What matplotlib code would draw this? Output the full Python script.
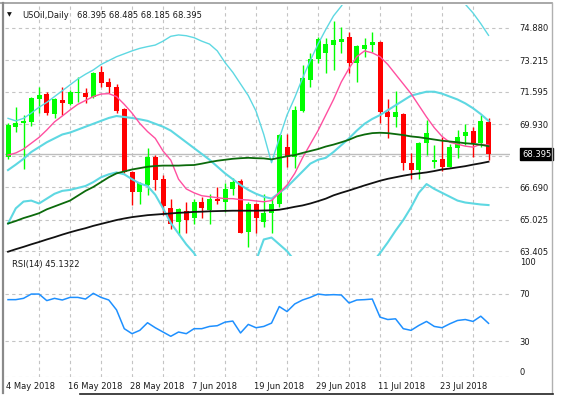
import matplotlib
matplotlib.use("Agg")
import matplotlib.pyplot as plt
import numpy as np
from matplotlib.transforms import blended_transform_factory
from matplotlib.lines import Line2D

# ---------------- data ----------------
opens = [68.26, 69.77, 70.01, 70.06, 71.21, 71.47, 70.45, 71.17, 70.97, 71.55,
         71.55, 71.31, 72.63, 72.12, 71.86, 70.69, 67.48, 66.45, 66.80, 68.26,
         67.09, 65.60, 64.91, 65.48, 65.08, 65.94, 65.51, 66.08, 65.94, 66.58,
         67.00, 64.40, 65.85, 64.91, 65.34, 65.85, 68.74, 68.22, 70.62, 72.20,
         73.27, 73.58, 74.01, 74.18, 74.43, 73.10, 73.78, 74.00, 74.18, 70.57,
         70.32, 70.44, 67.95, 67.57, 68.94, 68.00, 68.12, 67.74, 68.69, 69.32,
         69.58, 68.94, 70.06]
highs = [69.97, 70.83, 70.40, 71.35, 71.86, 71.60, 71.26, 71.86, 71.69, 72.34,
         71.77, 72.63, 72.92, 72.29, 72.00, 70.78, 67.52, 66.97, 68.69, 68.34,
         67.31, 66.06, 65.60, 65.94, 66.06, 66.16, 66.33, 66.68, 66.88, 67.14,
         67.09, 65.94, 65.89, 66.33, 66.20, 69.40, 69.42, 70.87, 72.98, 73.58,
         74.43, 74.35, 75.25, 74.95, 74.69, 74.00, 74.35, 74.69, 74.23, 71.21,
         71.65, 70.49, 68.43, 69.03, 70.14, 68.86, 69.29, 68.91, 69.63, 69.94,
         69.80, 70.40, 70.23]
lows = [68.12, 69.54, 67.60, 69.84, 70.49, 70.40, 70.23, 70.40, 70.92, 71.09,
        71.00, 71.26, 71.86, 71.52, 70.49, 67.43, 65.77, 65.85, 66.28, 66.54,
        65.25, 64.52, 64.22, 64.31, 64.79, 65.13, 64.82, 65.82, 65.43, 66.28,
        64.31, 63.59, 64.31, 64.65, 64.34, 65.68, 67.74, 67.66, 70.57, 71.86,
        73.06, 72.55, 72.72, 73.58, 72.55, 72.12, 73.40, 73.66, 69.97, 69.20,
        69.80, 67.57, 67.09, 67.09, 68.34, 67.66, 67.54, 67.71, 68.17, 68.86,
        68.22, 68.77, 68.09]
closes = [69.89, 70.01, 70.11, 71.26, 71.43, 70.49, 71.21, 71.00, 71.57, 71.60,
          71.31, 72.55, 72.07, 71.83, 70.62, 67.48, 66.45, 66.88, 68.26, 67.06,
          65.73, 64.82, 65.55, 65.00, 65.94, 65.60, 66.06, 65.97, 66.58, 66.97,
          64.34, 65.85, 65.08, 65.37, 65.82, 69.37, 68.22, 70.66, 72.29, 73.27,
          74.30, 74.06, 74.26, 74.31, 73.10, 73.95, 74.00, 74.18, 70.57, 70.32,
          70.57, 67.95, 67.57, 68.94, 69.46, 68.09, 67.74, 68.77, 69.29, 69.54,
          68.94, 70.11, 68.40]

bb_upper = [70.23, 70.10, 70.23, 70.50, 70.80, 71.05, 71.35, 71.65, 71.95, 72.25,
            72.50, 72.72, 73.00, 73.20, 73.40, 73.55, 73.70, 73.83, 73.92, 74.00,
            74.20, 74.45, 74.52, 74.48, 74.38, 74.20, 74.05, 73.70, 73.10, 72.60,
            72.00, 71.40, 70.60, 69.40, 67.95, 69.20, 70.40, 71.30, 72.30, 73.20,
            74.05, 74.80, 75.50, 76.00, 76.60, 77.20, 77.50, 77.60, 77.50, 77.45,
            77.35, 77.30, 77.15, 76.60, 76.35, 76.60, 76.60, 76.50, 76.40, 76.10,
            75.65, 75.10, 74.50]
bb_mid = [67.57, 67.85, 68.15, 68.50, 68.75, 69.00, 69.20, 69.40, 69.50, 69.65,
          69.80, 69.95, 70.10, 70.25, 70.35, 70.30, 70.25, 70.18, 70.10, 69.95,
          69.80, 69.60, 69.30, 69.00, 68.70, 68.40, 68.10, 67.75, 67.40, 67.10,
          66.80, 66.55, 66.35, 66.20, 66.10, 66.40, 66.70, 67.10, 67.50, 67.90,
          68.10, 68.20, 68.50, 68.85, 69.20, 69.60, 69.95, 70.20, 70.40, 70.65,
          70.90, 71.15, 71.40, 71.50, 71.60, 71.60, 71.50, 71.35, 71.20, 71.00,
          70.75, 70.45, 70.10]
bb_lower = [64.82, 65.60, 65.95, 66.00, 65.85, 66.10, 66.35, 66.50, 66.55, 66.65,
            66.75, 66.95, 67.20, 67.35, 67.45, 67.35, 67.10, 66.88, 66.75, 66.30,
            65.60, 64.85, 64.30, 63.75, 63.30, 62.60, 62.15, 61.80, 61.70, 61.60,
            61.60, 61.70, 62.90, 64.00, 64.10, 63.75, 63.40, 62.90, 62.60, 62.30,
            62.10, 61.90, 61.80, 61.70, 61.80, 62.00, 62.40, 62.80, 63.30, 63.85,
            64.45, 65.00, 65.65, 66.40, 66.85, 66.60, 66.40, 66.20, 66.00, 65.90,
            65.85, 65.80, 65.77]
ma_fast = [68.34, 68.45, 68.65, 68.95, 69.25, 69.63, 70.05, 70.35, 70.66, 70.95,
           71.15, 71.35, 71.48, 71.50, 71.35, 70.95, 70.50, 69.97, 69.55, 69.20,
           68.55, 68.08, 67.10, 66.60, 66.40, 66.25, 66.20, 66.15, 66.10, 66.10,
           66.05, 66.03, 65.98, 65.94, 66.00, 66.40, 66.80, 67.40, 68.20, 68.90,
           69.60, 70.40, 71.20, 72.10, 72.80, 73.40, 73.70, 73.60, 73.40, 73.00,
           72.50, 72.00, 71.50, 70.90, 70.30, 69.75, 69.30, 69.00, 68.90, 68.80,
           68.75, 68.90, 68.85]
ma_mid = [64.82, 64.95, 65.10, 65.22, 65.35, 65.55, 65.70, 65.85, 66.00, 66.25,
          66.50, 66.70, 66.95, 67.20, 67.40, 67.50, 67.60, 67.67, 67.74, 67.78,
          67.80, 67.80, 67.80, 67.82, 67.83, 67.90, 67.98, 68.05, 68.10, 68.15,
          68.18, 68.20, 68.18, 68.17, 68.12, 68.20, 68.28, 68.34, 68.45, 68.55,
          68.65, 68.78, 68.88, 69.00, 69.13, 69.30, 69.40, 69.47, 69.49, 69.47,
          69.42, 69.37, 69.30, 69.26, 69.20, 69.14, 69.08, 69.04, 69.00, 68.95,
          68.92, 68.87, 68.80]
ma_slow = [63.37, 63.50, 63.62, 63.75, 63.87, 64.00, 64.12, 64.25, 64.37, 64.48,
           64.58, 64.70, 64.80, 64.90, 65.00, 65.08, 65.15, 65.20, 65.25, 65.28,
           65.31, 65.34, 65.37, 65.39, 65.42, 65.43, 65.45, 65.46, 65.47, 65.48,
           65.48, 65.48, 65.48, 65.49, 65.50, 65.53, 65.60, 65.68, 65.75, 65.85,
           65.97, 66.10, 66.27, 66.40, 66.52, 66.65, 66.78, 66.90, 67.02, 67.12,
           67.20, 67.28, 67.35, 67.40, 67.45, 67.52, 67.60, 67.65, 67.71, 67.77,
           67.85, 67.92, 68.00]
rsi = [65.0, 65.0, 66.1, 69.7, 69.7, 64.2, 66.1, 64.7, 66.9, 66.9,
       65.5, 70.3, 66.9, 64.7, 56.4, 40.6, 36.4, 39.2, 45.6, 41.4,
       37.8, 34.2, 37.8, 36.4, 40.6, 40.6, 42.5, 43.1, 46.1, 47.0,
       37.0, 44.2, 41.4, 42.5, 45.3, 59.2, 55.0, 61.4, 64.7, 66.9,
       69.7, 68.9, 69.2, 68.9, 62.2, 64.7, 65.0, 65.5, 50.3, 48.3,
       48.9, 40.6, 39.2, 43.3, 46.7, 42.5, 41.4, 44.7, 47.5, 48.3,
       46.7, 51.1, 45.1]

price_levels = [74.880, 73.215, 71.595, 69.930, 68.310, 66.690, 65.025, 63.405]
rsi_levels = [0, 30, 70, 100]
date_labels = ["4 May 2018", "16 May 2018", "28 May 2018", "7 Jun 2018",
               "19 Jun 2018", "29 Jun 2018", "11 Jul 2018", "23 Jul 2018"]
date_index = [0, 8, 16, 24, 32, 40, 48, 56]
last_price = 68.395
title_symbol = "USOil,Daily"
title_values = "68.395 68.485 68.185 68.395"
rsi_title = "RSI(14) 45.1322"

# ---------------- figure ----------------
plt.rcParams['font.family'] = ['DejaVu Sans']
W, H = 564, 398
fig = plt.figure(figsize=(W / 100, H / 100), dpi=100)
fig.patch.set_facecolor('white')


def box(x0, y0, x1, y1):
    return [x0 / W, 1 - y1 / H, (x1 - x0) / W, (y1 - y0) / H]


ax = fig.add_axes(box(5, 5, 510, 256))
axr = fig.add_axes(box(5, 258, 510, 377), sharex=ax)

n = len(closes)
x = np.arange(n)
o = np.array(opens); c = np.array(closes)
hi = np.array(highs); lo = np.array(lows)
up = c >= o
cols = np.where(up, '#00FF00', '#FF0000')

grid_kw = dict(color='#C4C4C4', linestyle=(0, (3, 3)), linewidth=0.8)

# candles
ax.vlines(x, lo, hi, colors=cols, linewidth=1.0, zorder=3)
body_bot = np.minimum(o, c)
body_h = np.maximum(np.abs(c - o), 0.04)
ax.bar(x, body_h, bottom=body_bot, width=0.64, color=cols, linewidth=0, zorder=3)

# indicators
cyan = '#5ED8E2'
ax.plot(x, bb_upper, color=cyan, lw=1.0, zorder=4)
ax.plot(x, bb_mid, color=cyan, lw=1.5, zorder=4)
ax.plot(x, bb_lower, color=cyan, lw=1.5, zorder=4)
ax.plot(x, ma_fast, color='#FF4FA0', lw=1.0, zorder=4)
ax.plot(x, ma_mid, color='#0B6A0B', lw=1.3, zorder=4)
ax.plot(x, ma_slow, color='#111111', lw=1.3, zorder=4)

# bid line
ax.axhline(last_price, color='#BDBDBD', lw=1.0, zorder=2)

ax.set_xlim(-0.39, 64.77)
ax.set_ylim(63.15, 76.06)

ax.set_yticks(price_levels)
ax.set_yticklabels(["" if abs(v - 68.310) < 1e-6 else f"{v:.3f}" for v in price_levels])
ax.yaxis.tick_right()
ax.tick_params(axis='y', length=0, pad=7, labelsize=6, labelcolor='#1a1a1a')
ax.set_xticks(np.arange(4, n, 4))
ax.tick_params(axis='x', length=0, labelbottom=False)
ax.grid(True, **grid_kw)
ax.set_axisbelow(True)
for s in ax.spines.values():
    s.set_visible(False)

trans = blended_transform_factory(ax.transAxes, ax.transData)
ax.text(1.0 + 12 / 505, last_price, f"{last_price:.3f}", transform=trans,
        fontsize=6, color='white', va='center', ha='left',
        bbox=dict(facecolor='black', edgecolor='black', pad=1.2), zorder=10,
        clip_on=False)

# RSI
axr.plot(x, rsi, color='#1E90FF', lw=1.1, zorder=3)
axr.set_ylim(0, 100)
axr.set_yticks(rsi_levels)
axr.set_yticklabels([str(v) for v in rsi_levels])
axr.yaxis.tick_right()
axr.tick_params(axis='y', length=0, pad=7, labelsize=6, labelcolor='#1a1a1a')
labs = axr.get_yticklabels()
labs[0].set_va('bottom')
labs[-1].set_va('top')
axr.tick_params(axis='x', length=0, labelbottom=False)
axr.grid(True, **grid_kw)
axr.yaxis.get_gridlines()[-1].set_visible(False)
axr.set_axisbelow(True)
for s in axr.spines.values():
    s.set_visible(False)

tr2 = blended_transform_factory(axr.transData, axr.transAxes)
for i, lab in zip(date_index, date_labels):
    axr.text(i - 0.3, -0.076, lab, transform=tr2, ha='left', va='center',
             fontsize=6, color='#1a1a1a', clip_on=False)

# titles
fig.text(7 / W, 1 - 15 / H, "\u25BC", fontsize=4.5, va='center', ha='left', color='#111111')
fig.text(22 / W, 1 - 15 / H, title_symbol, fontsize=6, va='center', ha='left', color='#1a1a1a')
fig.text(77 / W, 1 - 15 / H, title_values, fontsize=6, va='center', ha='left', color='#1a1a1a')
fig.text(12 / W, 1 - 265 / H, rsi_title, fontsize=6, va='center', ha='left', color='#1a1a1a')

# window frame
def fline(x0, y0, x1, y1, color, lw):
    fig.add_artist(Line2D([x0 / W, x1 / W], [1 - y0 / H, 1 - y1 / H],
                          color=color, lw=lw, transform=fig.transFigure))

fline(0, 3, 552, 3, '#9a9a9a', 1.2)
fline(2.5, 3, 2.5, 393, '#8a8a8a', 1.6)
fline(552, 3, 552, 393, '#b0b0b0', 1.0)
fline(80, 393.5, 553, 393.5, '#222222', 1.2)

fig.savefig("out.png", dpi=100, facecolor='white')
